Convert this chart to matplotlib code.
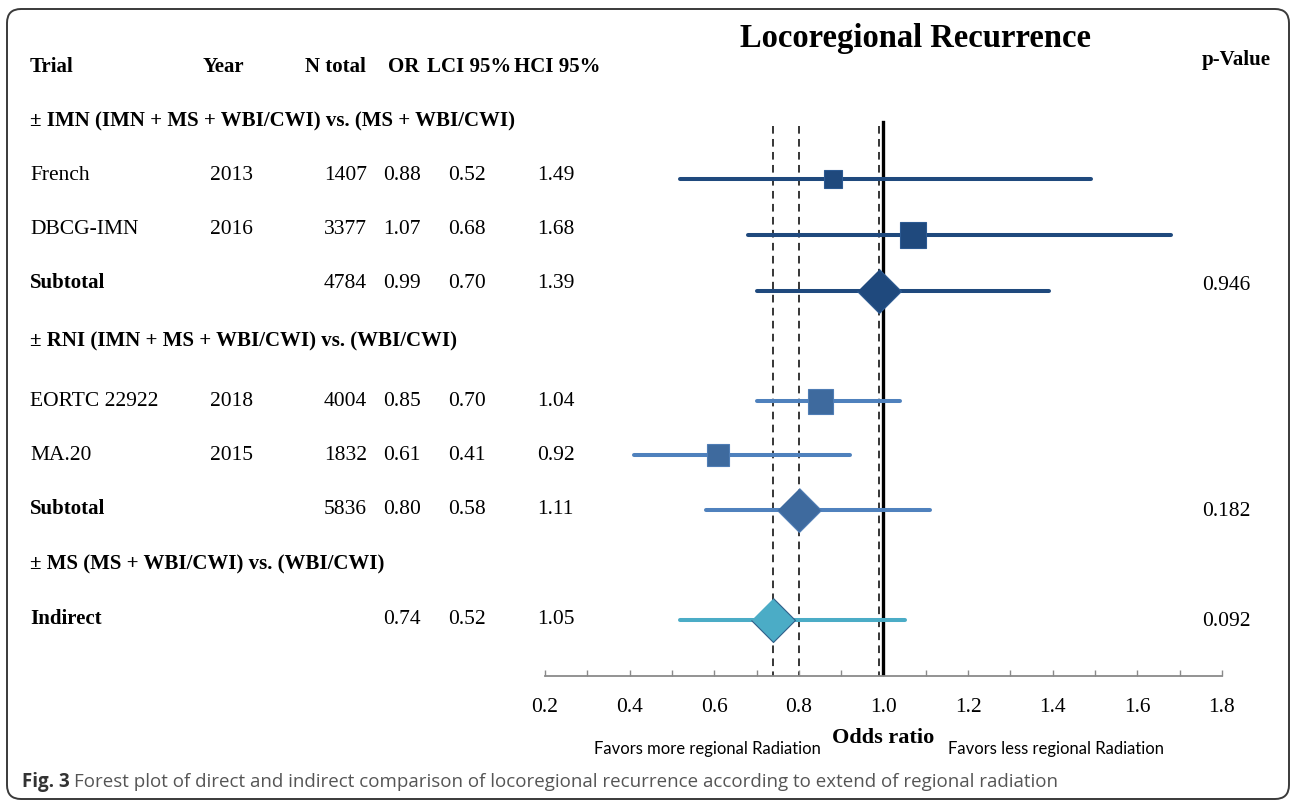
import numpy as np
import matplotlib
matplotlib.use("Agg")
import matplotlib.pyplot as plt
from matplotlib.patches import FancyBboxPatch
from matplotlib.transforms import IdentityTransform

# data
group_titles = ["\u00b1 IMN (IMN + MS + WBI/CWI) vs. (MS + WBI/CWI)",
                "\u00b1 RNI (IMN + MS + WBI/CWI) vs. (WBI/CWI)",
                "\u00b1 MS (MS + WBI/CWI) vs. (WBI/CWI)"]
trials = ["French", "DBCG-IMN", "Subtotal", "EORTC 22922", "MA.20", "Subtotal", "Indirect"]
years = ["2013", "2016", "", "2018", "2015", "", ""]
n_total = ["1407", "3377", "4784", "4004", "1832", "5836", ""]
odds = [0.88, 1.07, 0.99, 0.85, 0.61, 0.80, 0.74]
lci = [0.52, 0.68, 0.70, 0.70, 0.41, 0.58, 0.52]
hci = [1.49, 1.68, 1.39, 1.04, 0.92, 1.11, 1.05]
p_values = ["", "", "0.946", "", "", "0.182", "0.092"]
pooled = [False, False, True, False, False, True, True]
group_of = [0, 0, 0, 1, 1, 1, 2]

# layout (pixel rows of the 1292x801 image)
W, H = 1292, 801
row_y = [175, 229, 283, 401, 455, 509, 619]
mark_y = [179, 235, 291, 401, 455, 510, 620]
group_y = [121, 341, 564]
marker_px = [18, 27, 44, 25, 22, 44, 44]
line_cols = ["#1F497D", "#4F81BD", "#4BACC6"]
mark_cols = ["#1F497D", "#3E6A9E", "#4BACC6"]
edge_cols = ["#2C5A92", "#4F7DB5", "#2F5F8A"]

SERIF = "Liberation Serif"
SANS = "Open Sans"

fig = plt.figure(figsize=(W / 100, H / 100), dpi=100)


def fxy(x, y):
    return x / W, 1 - y / H


def txt(x, y, s, **kw):
    kw.setdefault("family", SERIF)
    kw.setdefault("fontsize", 15.5)
    kw.setdefault("va", "center")
    fig.text(*fxy(x, y), s, **kw)


# frame around figure + caption
frame = FancyBboxPatch((7, 2), 1282, 790, boxstyle="round,pad=0,rounding_size=14",
                       transform=IdentityTransform(), facecolor="none",
                       edgecolor="#3a3a3a", linewidth=1.4)
fig.patches.append(frame)

# forest axes
ax = fig.add_axes([545 / W, 1 - 676 / H, (1222 - 545) / W, (676 - 100) / H])
ax.set_xlim(0.2, 1.8)
ax.set_ylim(676, 100)
ax.patch.set_alpha(0)
for s in ["top", "right", "left"]:
    ax.spines[s].set_visible(False)
ax.spines["bottom"].set_color("#8a8a8a")
ax.spines["bottom"].set_linewidth(1.3)
ax.set_yticks([])
ax.set_xticks(np.arange(0.2, 1.81, 0.2))
ax.set_xticks(np.arange(0.2, 1.81, 0.1), minor=True)
ax.set_xticklabels([f"{v:.1f}" for v in np.arange(0.2, 1.81, 0.2)])
ax.tick_params(axis="x", which="both", direction="in", length=4.5, width=1,
               color="#8a8a8a", pad=16, labelsize=15.5)
for lab in ax.get_xticklabels():
    lab.set_family(SERIF)

# reference lines at pooled estimates and OR = 1
for o, p in zip(odds, pooled):
    if p:
        ax.plot([o, o], [126, 676], color="black", lw=1.1, ls=(0, (5, 3.5)), zorder=1)
ax.plot([1.0, 1.0], [122, 676], color="black", lw=2.4, zorder=2)

diamond = [(0, 1), (1, 0), (0, -1), (-1, 0)]
for i in range(len(trials)):
    g = group_of[i]
    ax.plot([lci[i], hci[i]], [mark_y[i], mark_y[i]], color=line_cols[g], lw=2.9,
            solid_capstyle="round", zorder=3)
    ax.plot(odds[i], mark_y[i], marker=diamond if pooled[i] else "s",
            markersize=marker_px[i] * 0.72, color=mark_cols[g],
            markeredgecolor=edge_cols[g], markeredgewidth=0.8, zorder=4)

# table
hb = dict(weight="bold", fontsize=15)
txt(30, 67, "Trial", **hb)
txt(203, 67, "Year", **hb)
txt(305, 67, "N total", **hb)
txt(388, 67, "OR", **hb)
txt(427, 67, "LCI 95%", **hb)
txt(514, 67, "HCI 95%", **hb)
txt(916, 38, "Locoregional Recurrence", weight="bold", fontsize=23.5, ha="center")
txt(1202, 60, "p-Value", **hb)

for t, y in zip(group_titles, group_y):
    txt(30, y, t, **hb)

for i in range(len(trials)):
    y = row_y[i]
    if trials[i] in ("Subtotal", "Indirect"):
        txt(30, y, trials[i], **hb)
    else:
        txt(30, y, trials[i])
    txt(210, y, years[i])
    txt(367, y, n_total[i], ha="right")
    txt(383, y, f"{odds[i]:.2f}")
    txt(448, y, f"{lci[i]:.2f}")
    txt(537, y, f"{hci[i]:.2f}")
    txt(1202, y + 3, p_values[i])

txt(883, 738, "Odds ratio", weight="bold", ha="center", fontsize=16)
txt(707, 749, "Favors more regional Radiation", family="Lato", fontsize=12, ha="center")
txt(1056, 749, "Favors less regional Radiation", family="Lato", fontsize=12, ha="center")

# caption
fig.text(*fxy(22, 782), "Fig. 3", family=SANS, weight="bold", fontsize=13.5,
         color="#333333", va="center")
fig.text(*fxy(74, 782), "Forest plot of direct and indirect comparison of locoregional "
         "recurrence according to extend of regional radiation", family=SANS,
         fontsize=13.5, color="#555555", va="center")

fig.savefig("out.png", dpi=100)
